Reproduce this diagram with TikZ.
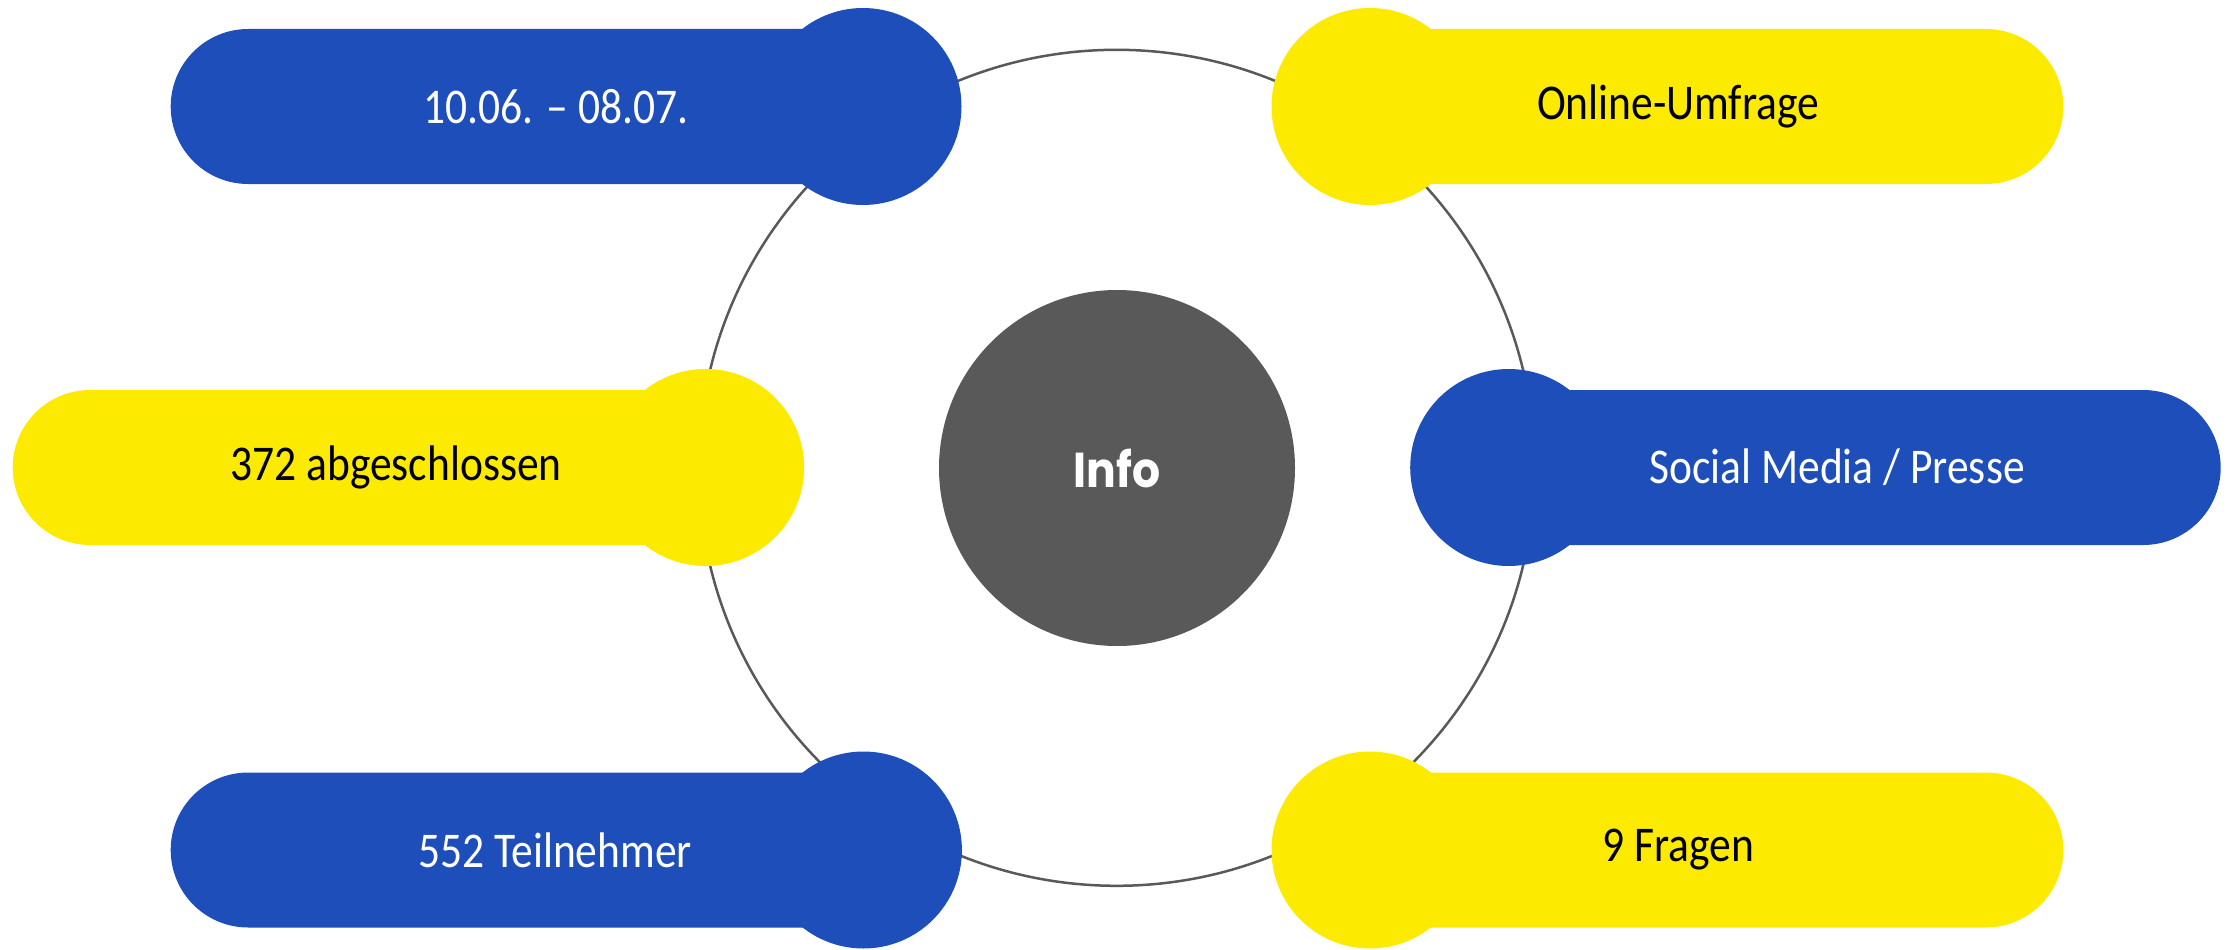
\documentclass[tikz,border=0pt]{standalone}
\usepackage{fontspec}
\setmainfont{Carlito}[FakeStretch=0.87]
\newfontfamily\infofont{Poppins}[FakeStretch=0.9]
\definecolor{pblue}{RGB}{29,78,186}
\definecolor{pyellow}{RGB}{252,234,0}
\definecolor{pgray}{RGB}{89,89,89}
% left blob: colour, left x, centre y, circle x
\newcommand\lblob[4]{%
  \fill[#1] (#4,#3-77.5) -- (#2+77.5,#3-77.5) arc[start angle=270,end angle=90,radius=77.5] -- (#4,#3+77.5) -- cycle;
  \fill[#1] (#4,#3) circle[radius=98.5];}
% right blob: colour, right x, centre y, circle x
\newcommand\rblob[4]{%
  \fill[#1] (#4,#3-77.5) -- (#2-77.5,#3-77.5) arc[start angle=-90,end angle=90,radius=77.5] -- (#4,#3+77.5) -- cycle;
  \fill[#1] (#4,#3) circle[radius=98.5];}
\begin{document}
\begin{tikzpicture}[x=1pt,y=-1pt,
  lbl/.style={inner sep=0pt,font=\fontsize{50}{60}\selectfont},
  infolbl/.style={inner sep=0pt,text=white,font=\infofont\bfseries\fontsize{49}{58}\selectfont}]
\useasboundingbox (0,0) rectangle (2236,950);
\draw[pgray,line width=2.5pt] (1116.6,467.8) circle[radius=418];
\lblob{pblue}{170.7}{106.5}{863}
\lblob{pyellow}{12.7}{467.5}{705.6}
\lblob{pblue}{170.7}{850}{863.4}
\rblob{pyellow}{2063.3}{106.5}{1370}
\rblob{pblue}{2220.7}{467.5}{1508.7}
\rblob{pyellow}{2063.3}{850}{1370}
\fill[pgray] (1117,468) circle[radius=178];
\node[infolbl] (info) at (1117,468) {Info};
\node[lbl,text=white] (t1) at (556,106.5) {10.06. – 08.07.};
\node[lbl,text=black] (t2) at (396,467.5) {372 abgeschlossen};
\node[lbl,text=white] (t3) at (555,850) {552 Teilnehmer};
\node[lbl,text=black] (t4) at (1678,106.5) {Online-Umfrage};
\node[lbl,text=white] (t5) at (1837,467.5) {Social Media / Presse};
\node[lbl,text=black] (t6) at (1678,850) {9 Fragen};
\end{tikzpicture}
\end{document}
